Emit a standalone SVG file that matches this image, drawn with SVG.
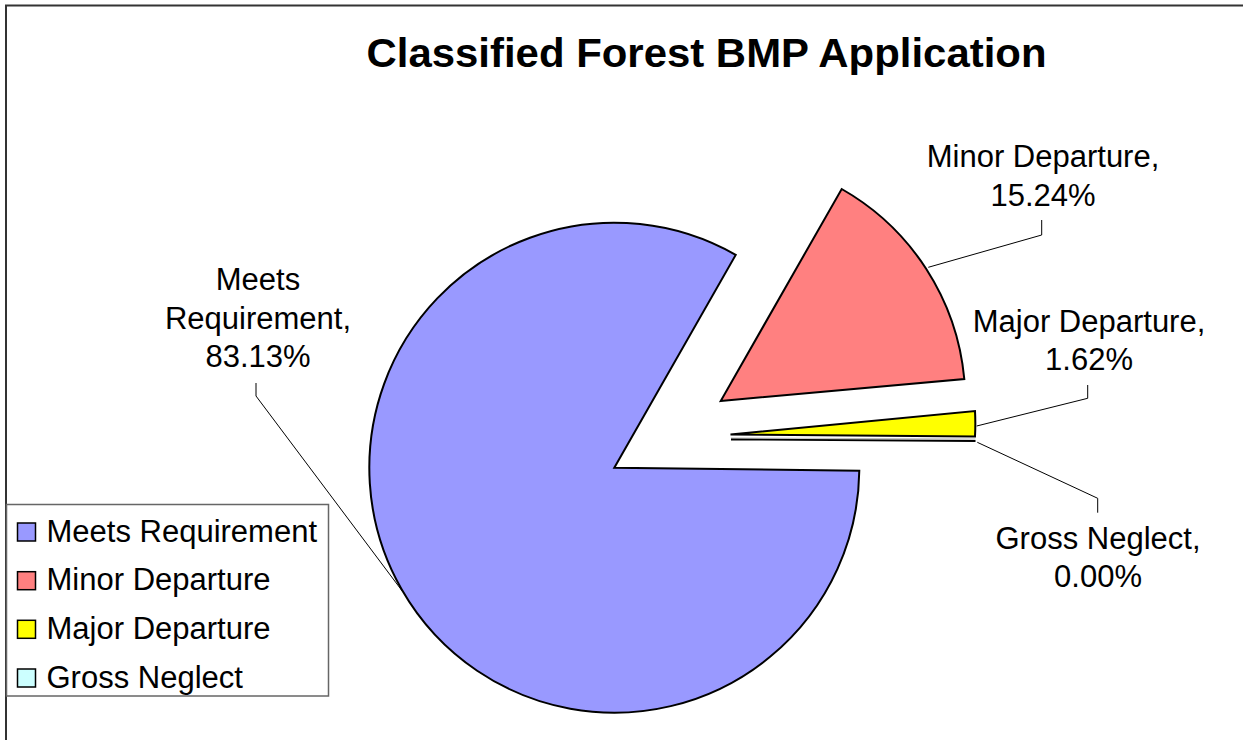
<svg xmlns="http://www.w3.org/2000/svg" width="1243" height="740" viewBox="0 0 1243 740">
<style>
.slice{stroke:#000;stroke-width:2;stroke-linejoin:miter}
.lbl{font-family:"Liberation Sans",Arial,sans-serif;font-size:31px;fill:#000;text-anchor:middle}
.leg{font-family:"Liberation Sans",Arial,sans-serif;font-size:31px;fill:#000}
.lead{fill:none;stroke:#000;stroke-width:1}
.sw{stroke:#000;stroke-width:1.5}
</style>
<rect x="0" y="0" width="1243" height="740" fill="#fff"/>
<path d="M6 740 V5.5 H1243" fill="none" stroke="#333" stroke-width="2"/>
<text x="366.5" y="67" font-family="'Liberation Sans',Arial,sans-serif" font-size="41.5" font-weight="bold" fill="#000" textLength="680" lengthAdjust="spacingAndGlyphs">Classified Forest BMP Application</text>
<g id="slice-meets">
<path class="slice" fill="#9999FF" d="M614.3 467.7 L735.7 254.9 A245 245 0 1 0 859.3 470.7 Z"/>
</g>
<g id="slice-minor">
<path class="slice" fill="#FF8080" d="M720.7 401 L964.3 379 A244.5 244.5 0 0 0 841.7 189 Z"/>
</g>
<g id="slice-major">
<path class="slice" fill="#FFFF00" d="M730.5 434.5 L975 436.5 A244.5 244.5 0 0 0 975 411 Z"/>
</g>
<g id="slice-gross">
<path d="M731 438 L975.5 439" fill="none" stroke="#bbb" stroke-width="1"/>
<path d="M731 439.5 L975.5 441" fill="none" stroke="#000" stroke-width="1.8"/>
</g>
<g id="connectors">
<path class="lead" d="M256 383 V396 L402.6 591.5"/>
<path class="lead" d="M1041.7 220 V235 L928.3 267.3"/>
<path class="lead" d="M1087.7 385 V398.3 L976.7 426"/>
<path class="lead" d="M977.3 442.3 L1097.7 498.3 V512.7"/>
</g>
<g id="label-meets">
<text class="lbl" x="258" y="290">Meets</text>
<text class="lbl" x="258" y="328.5">Requirement,</text>
<text class="lbl" x="258" y="367">83.13%</text>
</g>
<g id="label-minor">
<text class="lbl" x="1043" y="167">Minor Departure,</text>
<text class="lbl" x="1043" y="206">15.24%</text>
</g>
<g id="label-major">
<text class="lbl" x="1089" y="331.5">Major Departure,</text>
<text class="lbl" x="1089" y="369.5">1.62%</text>
</g>
<g id="label-gross">
<text class="lbl" x="1098" y="548.5">Gross Neglect,</text>
<text class="lbl" x="1098" y="587">0.00%</text>
</g>
<g id="legend">
<rect x="6.5" y="504.5" width="322" height="191.5" fill="#fff" stroke="#666" stroke-width="1.5"/>
<rect class="sw" x="17.5" y="523" width="18" height="18" fill="#9999FF"/>
<text class="leg" x="46.5" y="541.7">Meets Requirement</text>
<rect class="sw" x="17.5" y="571.7" width="18" height="18" fill="#FF8080"/>
<text class="leg" x="46.5" y="590.3">Minor Departure</text>
<rect class="sw" x="17.5" y="620.3" width="18" height="18" fill="#FFFF00"/>
<text class="leg" x="46.5" y="639">Major Departure</text>
<rect class="sw" x="17.5" y="669" width="18" height="18" fill="#CCFFFF"/>
<text class="leg" x="46.5" y="687.7">Gross Neglect</text>
</g>
</svg>
